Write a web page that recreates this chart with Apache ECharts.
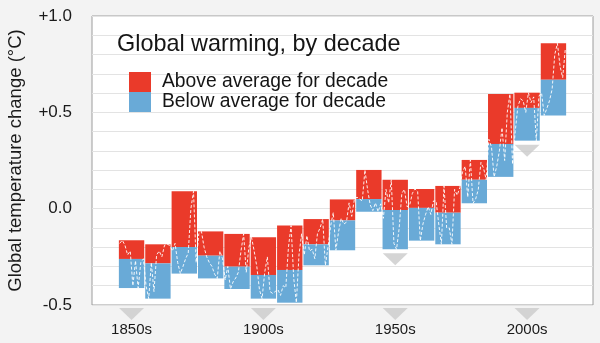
<!DOCTYPE html>
<html>
<head>
<meta charset="utf-8">
<script src="https://cdn.jsdelivr.net/npm/echarts@6/dist/echarts.min.js"></script>
<style>
html,body{margin:0;padding:0;background:#f3f3f3;}
#chart{width:600px;height:343px;}
</style>
</head>
<body>
<div id="chart"></div>
<script>
// Decade start years
const decades = [1850,1860,1870,1880,1890,1900,1910,1920,1930,1940,1950,1960,1970,1980,1990,2000,2010];
// Decade maximum, mean and minimum anomaly (°C)
const decadeMax  = [-0.164,-0.185, 0.090,-0.118,-0.131,-0.149,-0.088,-0.054, 0.048, 0.201, 0.150, 0.102, 0.118, 0.253, 0.595, 0.602, 0.858];
const decadeMean = [-0.261,-0.284,-0.199,-0.244,-0.301,-0.344,-0.318,-0.185,-0.061, 0.050,-0.007, 0.004,-0.021, 0.150, 0.336, 0.523, 0.669];
const decadeMin  = [-0.412,-0.467,-0.337,-0.362,-0.417,-0.467,-0.488,-0.294,-0.216,-0.016,-0.211,-0.166,-0.185, 0.028, 0.165, 0.353, 0.484];
// Annual anomalies 1850–2019 (estimated from the dashed line)
const annualStart = 1850;
const annualValues = [
  -0.18,-0.164,-0.19,-0.24,-0.22,-0.40,-0.27,-0.412,-0.28,-0.26,
  -0.40,-0.467,-0.28,-0.43,-0.24,-0.22,-0.25,-0.19,-0.185,-0.19,
  -0.22,-0.18,-0.28,-0.337,-0.30,-0.26,-0.23,0.00,0.090,-0.28,
  -0.13,-0.118,-0.20,-0.25,-0.28,-0.30,-0.34,-0.362,-0.22,-0.26,
  -0.37,-0.30,-0.417,-0.38,-0.36,-0.33,-0.22,-0.131,-0.33,-0.20,
  -0.149,-0.22,-0.30,-0.42,-0.467,-0.33,-0.25,-0.43,-0.44,-0.43,
  -0.42,-0.45,-0.40,-0.41,-0.20,-0.088,-0.36,-0.488,-0.24,-0.13,
  -0.24,-0.14,-0.22,-0.21,-0.26,-0.13,-0.10,-0.054,-0.294,-0.20,
  -0.09,-0.02,-0.216,-0.12,-0.05,-0.08,-0.07,0.03,-0.04,0.048,
  0.06,0.05,0.04,0.201,0.10,0.02,-0.01,0.03,-0.016,0.025,
  -0.05,0.10,0.03,0.150,-0.18,-0.211,-0.10,0.08,0.10,0.01,
  0.02,0.08,0.102,0.09,-0.166,-0.08,-0.03,0.01,-0.03,0.04,
  0.04,-0.08,-0.185,0.118,-0.10,-0.10,-0.185,0.10,0.07,0.11,
  0.19,0.22,0.06,0.253,0.028,0.05,0.10,0.24,0.21,0.15,
  0.36,0.32,0.165,0.22,0.30,0.42,0.25,0.50,0.595,0.23,
  0.40,0.53,0.57,0.56,0.50,0.602,0.55,0.58,0.353,0.585,
  0.60,0.484,0.52,0.56,0.62,0.80,0.858,0.74,0.68,0.83
];
// Axis tick labels and marked decades
const tickDecades = [1850,1900,1950,2000];
const tickLabels = ['1850s','1900s','1950s','2000s'];
const markedDecades = [1950,2000];
const yTicks = [-0.5, 0.0, 0.5, 1.0];
const yTickLabels = ['-0.5','0.0','+0.5','+1.0'];

const RED = '#ea3a2a', BLUE = '#69aad7', TRI = '#cbcbcb';
const FONT = "'Liberation Sans', Arial, sans-serif";

function rectItem(params, api, color) {
  const x0 = api.value(0), lo = api.value(1), hi = api.value(2);
  const p1 = api.coord([x0, hi]);
  const p2 = api.coord([x0 + 10, lo]);
  return {
    type: 'rect',
    shape: { x: p1[0] + 0.5, y: p1[1], width: p2[0] - p1[0] - 1, height: p2[1] - p1[1] },
    style: { fill: color }
  };
}

const chart = echarts.init(document.getElementById('chart'), null, { renderer: 'canvas' });
const triPath = 'path://M0,0 L10,0 L5,5 Z';
chart.setOption({
  backgroundColor: '#f3f3f3',
  animation: false,
  textStyle: { fontFamily: FONT },
  title: {
    text: 'Global warming, by decade',
    left: 117, top: 33, padding: 0,
    textStyle: { fontSize: 23.4, fontWeight: 'normal', color: '#151515', fontFamily: FONT }
  },
  legend: {
    orient: 'vertical', left: 129, top: 72, padding: 0,
    itemWidth: 22, itemHeight: 20, itemGap: 0,
    icon: 'rect',
    data: ['Above average for decade', 'Below average for decade'],
    textStyle: { fontSize: 19.3, color: '#151515', lineHeight: 20, padding: [0, 0, 0, 6], fontFamily: FONT },
    selectedMode: false
  },
  grid: {
    left: 92, right: 7, top: 16, bottom: 38,
    containLabel: false, outerBoundsMode: 'none',
    show: true, backgroundColor: '#ffffff', borderColor: '#9c9c9c', borderWidth: 1
  },
  xAxis: {
    type: 'value', min: 1840, max: 2030,
    axisLine: { show: false }, axisTick: { show: false }, splitLine: { show: false },
    axisLabel: {
      customValues: tickDecades.map(d => d + 5),
      formatter: v => tickLabels[tickDecades.indexOf(v - 5)] || '',
      fontSize: 15, color: '#1a1a1a', margin: 17
    }
  },
  yAxis: {
    type: 'value', min: -0.5, max: 1.0, interval: 0.1,
    name: 'Global temperature change (°C)',
    nameLocation: 'middle', nameGap: 67, nameMoveOverlap: false,
    nameTextStyle: { fontSize: 18.5, color: '#1a1a1a' },
    axisLine: { show: false }, axisTick: { show: false },
    splitLine: { lineStyle: { color: '#e3e3e3' } },
    axisLabel: {
      fontSize: 17, color: '#1a1a1a', margin: 20,
      formatter: v => {
        const k = yTicks.findIndex(t => Math.abs(t - v) < 1e-6);
        return k >= 0 ? yTickLabels[k] : '';
      }
    }
  },
  series: [
    {
      name: 'Above average for decade', type: 'custom', z: 2,
      itemStyle: { color: RED },
      encode: { x: 0, y: [1, 2] },
      data: decades.map((d, i) => [d, decadeMean[i], decadeMax[i]]),
      renderItem: (p, api) => rectItem(p, api, RED)
    },
    {
      name: 'Below average for decade', type: 'custom', z: 2,
      itemStyle: { color: BLUE },
      encode: { x: 0, y: [1, 2] },
      data: decades.map((d, i) => [d, decadeMin[i], decadeMean[i]]),
      renderItem: (p, api) => rectItem(p, api, BLUE)
    },
    {
      name: 'annual', type: 'line', z: 4, silent: true,
      symbol: 'none',
      lineStyle: { color: 'rgba(255,255,255,0.9)', width: 1, type: [3, 2] },
      data: annualValues.map((v, i) => [annualStart + i + 0.5, v])
    },
    {
      name: 'axisMarks', type: 'scatter', z: 3, silent: true, clip: false,
      symbol: triPath, symbolSize: [25, 12], symbolOffset: [0, 9],
      itemStyle: { color: TRI },
      data: tickDecades.map(d => [d + 5, -0.5])
    },
    {
      name: 'barMarks', type: 'scatter', z: 3, silent: true, clip: false,
      symbol: triPath, symbolSize: [25, 12], symbolOffset: [0, 10],
      itemStyle: { color: TRI },
      data: markedDecades.map(d => [d + 5, decadeMin[decades.indexOf(d)]])
    }
  ]
});
</script>
</body>
</html>
